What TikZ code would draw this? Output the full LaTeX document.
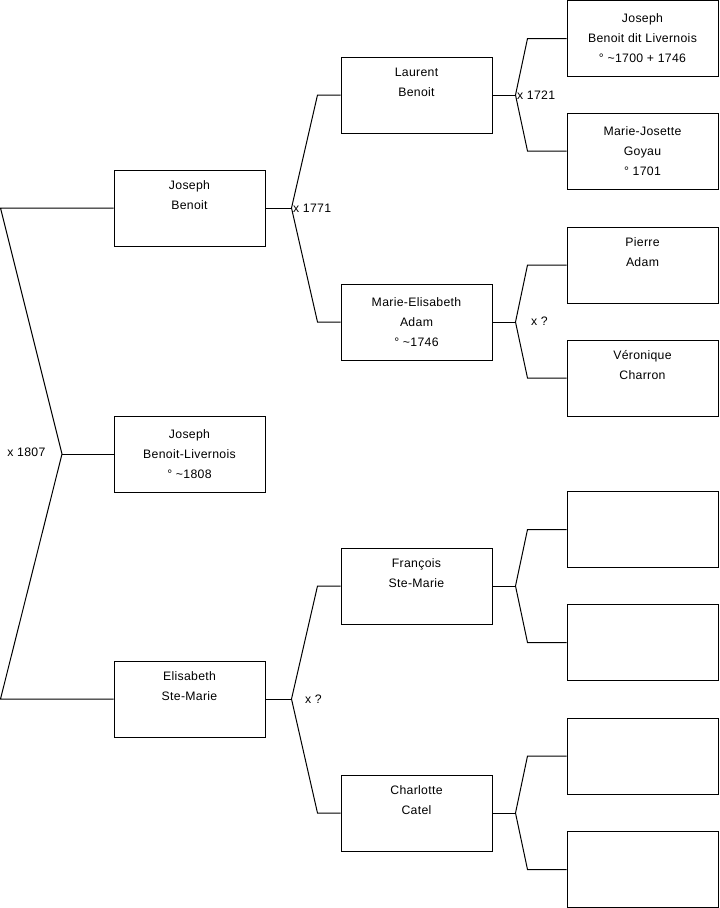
\documentclass[tikz,border=0pt]{standalone}
\usepackage{fontspec}
\setmainfont{Liberation Sans}[LetterSpace=2.5]
\usetikzlibrary{calc}

\begin{document}
\begin{tikzpicture}[
    x=0.75pt, y=-0.75pt,
    person/.style={rectangle, draw, line width=0.75pt, minimum width=113.25pt, minimum height=57pt,
                   inner sep=0pt, align=center, font=\fontsize{9.2}{15}\selectfont},
    link/.style={draw, line width=0.75pt},
    wed/.style={font=\fontsize{9.2}{11}\selectfont, inner sep=1pt}
]
  \useasboundingbox (0,0) rectangle (719,908);
  % Generation 1: the person and the parents
  \node[person] (jb)  at (189.5,208) {Joseph\\Benoit\\\strut};
  \node[person] (jbl) at (189.5,454) {Joseph\\Benoit-Livernois\\° \textasciitilde1808};
  \node[person] (esm) at (189.5,699) {Elisabeth\\Ste-Marie\\\strut};
  % Generation 2
  \node[person] (lb)  at (416.5,95)  {Laurent\\Benoit\\\strut};
  \node[person] (mea) at (416.5,322) {Marie-Elisabeth\\Adam\\° \textasciitilde1746};
  \node[person] (fsm) at (416.5,586) {François\\Ste-Marie\\\strut};
  \node[person] (cc)  at (416.5,813) {Charlotte\\Catel\\\strut};
  % Generation 3
  \node[person] (jbdl) at (642.5,38.5) {Joseph\\Benoit dit Livernois\\° \textasciitilde1700 + 1746};
  \node[person] (mjg)  at (642.5,151)  {Marie-Josette\\Goyau\\° 1701};
  \node[person] (pa)   at (642.5,265)  {Pierre\\Adam\\\strut};
  \node[person] (vc)   at (642.5,378)  {Véronique\\Charron\\\strut};
  \node[person] (u1)   at (642.5,529.5) {};
  \node[person] (u2)   at (642.5,642.5) {};
  \node[person] (u3)   at (642.5,756)  {};
  \node[person] (u4)   at (642.5,869.5) {};

  % Marriage of the parents, opening to the left
  \coordinate (wed0) at (62,454);
  \draw[link] (jbl.west) -- (wed0);
  \draw[link] (jb.west) -- ++(-113,0) -- (wed0) -- ($(esm.west)+(-113,0)$) -- (esm.west);
  \node[wed, anchor=east] at ($(wed0)+(-15,-2)$) {x 1807};

  % Forks to the grandparents
  \foreach \c/\f/\m in {jb/lb/mea, esm/fsm/cc} {
    \coordinate (\c-w) at ($(\c.east)+(26,0)$);
    \draw[link] (\c.east) -- (\c-w);
    \draw[link] (\f.west) -- ++(-23,0) -- (\c-w) -- ($(\m.west)+(-23,0)$) -- (\m.west);
  }
  % Forks to the great-grandparents
  \foreach \c/\f/\m in {lb/jbdl/mjg, mea/pa/vc, fsm/u1/u2, cc/u3/u4} {
    \coordinate (\c-w) at ($(\c.east)+(23,0)$);
    \draw[link] (\c.east) -- (\c-w);
    \draw[link] (\f.west) -- ++(-39,0) -- (\c-w) -- ($(\m.west)+(-39,0)$) -- (\m.west);
  }

  \node[wed, anchor=west] at (jb-w) {x 1771};
  \node[wed, anchor=west] at ($(esm-w)+(12,0)$) {x ?};
  \node[wed, anchor=west] at (lb-w) {x 1721};
  \node[wed, anchor=west] at ($(mea-w)+(14,-1)$) {x ?};
\end{tikzpicture}
\end{document}
